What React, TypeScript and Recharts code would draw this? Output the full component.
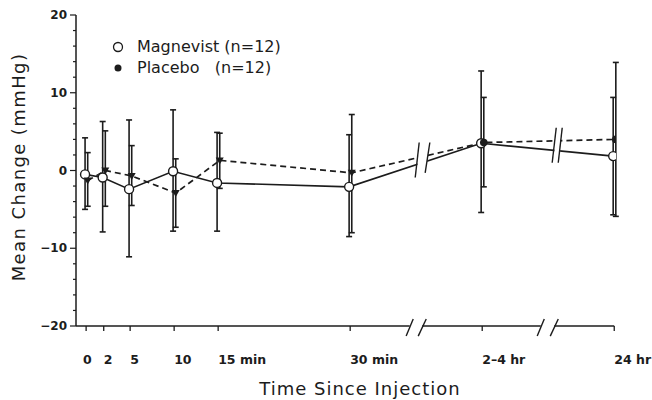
import React from 'react';
import { LineChart, Line, XAxis, YAxis, ErrorBar, Legend, ReferenceLine, ReferenceArea } from 'recharts';

// Time positions on the (broken) x axis and their labels
const timePositions = [0, 2, 5, 10, 15, 30, 45, 60];
const timeLabels = ['0', '2', '5', '10', '15 min', '30 min', '2\u20134 hr', '24 hr'];

// Magnevist (n=12): mean change and error-bar ends (mmHg)
const magnevistMean = [-0.5, -0.9, -2.4, -0.1, -1.6, -2.1, 3.5, 1.85];
const magnevistLow = [-5.0, -7.9, -11.1, -7.8, -7.8, -8.5, -5.4, -5.7];
const magnevistHigh = [4.2, 6.3, 6.5, 7.8, 4.9, 4.6, 12.8, 9.4];

// Placebo (n=12)
const placeboMean = [-1.3, 0.0, -0.7, -2.9, 1.3, -0.3, 3.6, 4.0];
const placeboLow = [-4.6, -4.6, -4.5, -7.3, -2.3, -8.0, -2.1, -5.9];
const placeboHigh = [2.3, 5.1, 3.2, 1.5, 4.8, 7.2, 9.4, 13.9];

const yTicks = [-20, -18, -16, -14, -12, -10, -8, -6, -4, -2, 0, 2, 4, 6, 8, 10, 12, 14, 16, 18, 20];
const yMajorTicks = [-20, -10, 0, 10, 20];

const seriesNames = ['Magnevist (n=12)', 'Placebo   (n=12)'];

// axis-break slashes (data units)
const lineBreaks = [
  [{ x: 37.39, y: -0.9 }, { x: 37.84, y: 3.6 }],
  [{ x: 38.52, y: -0.3 }, { x: 39.05, y: 3.6 }],
  [{ x: 52.95, y: 1.0 }, { x: 53.41, y: 5.5 }],
  [{ x: 53.64, y: 1.0 }, { x: 54.09, y: 5.5 }],
];
const axisBreaks = [
  [{ x: 36.36, y: -21.3 }, { x: 37.16, y: -19.1 }],
  [{ x: 37.73, y: -21.3 }, { x: 38.64, y: -19.1 }],
  [{ x: 51.25, y: -21.3 }, { x: 52.05, y: -19.1 }],
  [{ x: 52.73, y: -21.3 }, { x: 53.64, y: -19.1 }],
];
const axisPieces = [
  [{ x: -1.15, y: -20 }, { x: 36.76, y: -20 }],
  [{ x: 38.18, y: -20 }, { x: 51.65, y: -20 }],
  [{ x: 53.18, y: -20 }, { x: 60.0, y: -20 }],
];

const FONT = '"DejaVu Sans", sans-serif';
const INK = '#1c1c1c';

const magData = timePositions.map((t, i) => ({
  x: t - 0.12,
  y: magnevistMean[i],
  err: [magnevistMean[i] - magnevistLow[i], magnevistHigh[i] - magnevistMean[i]],
}));
const placData = timePositions.map((t, i) => ({
  x: t + 0.18,
  y: placeboMean[i],
  err: [placeboMean[i] - placeboLow[i], placeboHigh[i] - placeboMean[i]],
}));

const XTick = (props: any) => {
  const { x, y, payload } = props;
  const i = timePositions.indexOf(payload.value);
  const label = i >= 0 ? timeLabels[i] : '';
  return (
    <text x={x + (i === 0 ? -3 : 0)} y={y + 26} textAnchor="start" dominantBaseline="central"
      fontFamily={FONT} fontSize={12.5} fontWeight="bold" fill={INK}>
      {label}
    </text>
  );
};

const YTick = (props: any) => {
  const { x, y, payload } = props;
  const major = yMajorTicks.includes(payload.value);
  const lbl = payload.value < 0 ? '\u2212' + Math.abs(payload.value) : String(payload.value);
  return (
    <g>
      <line x1={x - (major ? 6 : 3)} x2={x} y1={y} y2={y} stroke={INK} strokeWidth={1.2} />
      {major && (
        <text x={x - 9} y={y} textAnchor="end" dominantBaseline="central"
          fontFamily={FONT} fontSize={12} fontWeight="bold" fill={INK}>
          {lbl}
        </text>
      )}
    </g>
  );
};

const YTitle = () => (
  <text x={18} y={167} transform="rotate(-90 18 167)" textAnchor="middle" dominantBaseline="central"
    fontFamily={FONT} fontSize={18} letterSpacing={1.4} fill={INK}>
    Mean Change (mmHg)
  </text>
);

const XTitle = () => (
  <text x={360} y={388} textAnchor="middle" dominantBaseline="central"
    fontFamily={FONT} fontSize={18} letterSpacing={1} fill={INK}>
    Time Since Injection
  </text>
);

const PlaceboDot = (props: any) => {
  const { cx, cy, index } = props;
  if (cx == null || cy == null) return null;
  if (index < 6) {
    return (
      <polygon key={`pd-${index}`} points={`${cx - 4},${cy - 3} ${cx + 4},${cy - 3} ${cx},${cy + 4}`} fill={INK} />
    );
  }
  return <circle key={`pd-${index}`} cx={cx} cy={cy} r={3.8} fill={INK} />;
};

const renderLegend = () => (
  <div style={{ fontFamily: FONT, fontSize: 16, color: INK }}>
    {seriesNames.map((name, i) => (
      <div key={name} style={{ display: 'flex', alignItems: 'center', height: 21 }}>
        <svg width={12} height={12} style={{ marginRight: 13 }}>
          {i === 0 ? (
            <circle cx={6} cy={6} r={4.5} fill="white" stroke={INK} strokeWidth={1.3} />
          ) : (
            <circle cx={6} cy={6} r={3.5} fill={INK} />
          )}
        </svg>
        <span style={{ whiteSpace: 'pre' }}>{name}</span>
      </div>
    ))}
  </div>
);

export default function App() {
  return (
    <div style={{ position: 'absolute', left: 0, top: 0, width: 652, height: 400, background: 'white' }}>
      <LineChart width={652} height={400} margin={{ top: 15, right: 36, bottom: 44, left: 36 }}>
        <XAxis dataKey="x" type="number" domain={[-1.15, 60.2]} ticks={timePositions}
          axisLine={false} tickLine={{ stroke: INK, strokeWidth: 1.3 }} tickSize={5}
          height={30} tick={<XTick />} label={<XTitle />} allowDataOverflow />
        <YAxis type="number" domain={[-20, 20]} ticks={yTicks} interval={0} width={40}
          tickSize={0} tickMargin={0} tickLine={false}
          axisLine={{ stroke: INK, strokeWidth: 1.5 }} tick={<YTick />} label={<YTitle />} />
        {axisPieces.map((seg, i) => (
          <ReferenceLine key={`ax-${i}`} segment={seg} stroke={INK} strokeWidth={1.5} ifOverflow="visible" />
        ))}
        {axisBreaks.map((seg, i) => (
          <ReferenceLine key={`ab-${i}`} segment={seg} stroke={INK} strokeWidth={1.4} ifOverflow="visible" />
        ))}
        <Line data={magData} dataKey="y" name={seriesNames[0]} stroke={INK} strokeWidth={1.6}
          dot={{ r: 4.5, fill: 'white', stroke: INK, strokeWidth: 1.4 }} isAnimationActive={false}>
          <ErrorBar dataKey="err" width={3} stroke={INK} strokeWidth={1.6} direction="y" />
        </Line>
        <Line data={placData} dataKey="y" name={seriesNames[1]} stroke={INK} strokeWidth={1.7}
          strokeDasharray="6 4" dot={<PlaceboDot />} isAnimationActive={false}>
          <ErrorBar dataKey="err" width={3} stroke={INK} strokeWidth={1.6} direction="y" />
        </Line>
        <ReferenceArea x1={37.65} x2={38.75} y1={-1.2} y2={4.2} fill="white" fillOpacity={1} stroke="none" zIndex={1000} ifOverflow="visible" />
        <ReferenceArea x1={53.2} x2={53.85} y1={0.6} y2={5.8} fill="white" fillOpacity={1} stroke="none" zIndex={1000} ifOverflow="visible" />
        {lineBreaks.map((seg, i) => (
          <ReferenceLine key={`lb-${i}`} segment={seg} stroke={INK} strokeWidth={1.4} ifOverflow="visible" zIndex={1100} />
        ))}
        <Legend layout="vertical" align="center" verticalAlign="middle" content={renderLegend}
          wrapperStyle={{ position: 'absolute', left: 112, top: 36, width: 220 }} />
      </LineChart>
    </div>
  );
}
